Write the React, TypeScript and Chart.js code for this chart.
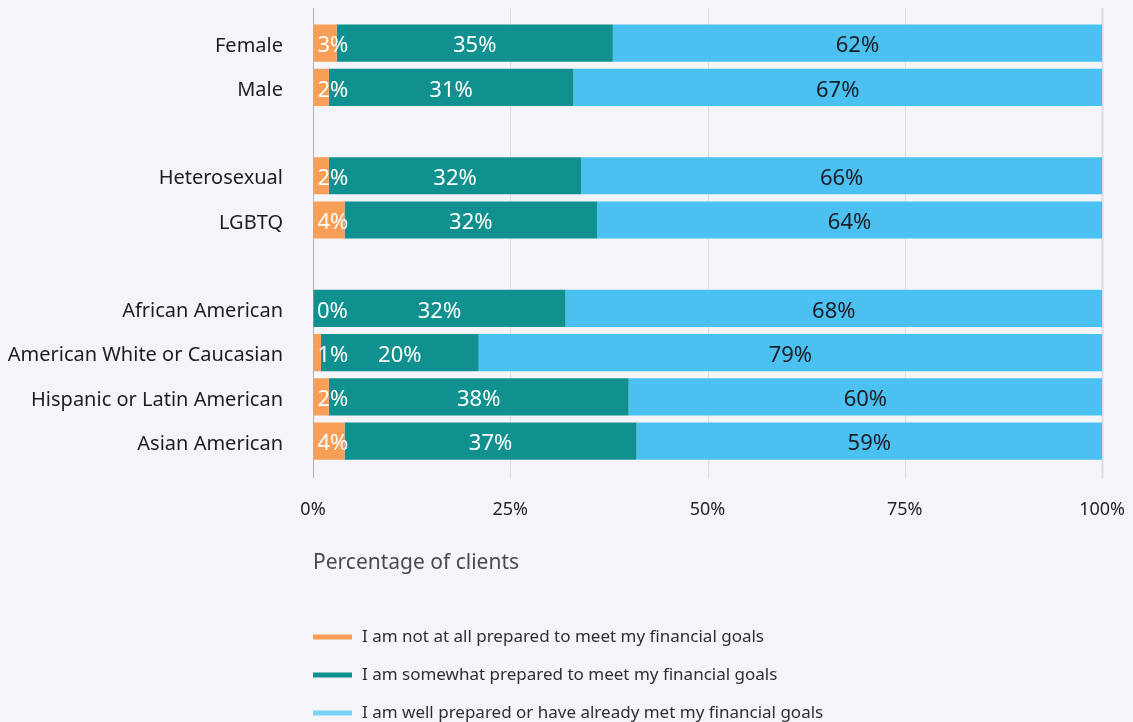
import React, { useEffect, useRef } from "react";
import { Chart, registerables } from "chart.js";

Chart.register(...registerables);

const categories = [
  "Female",
  "Male",
  "",
  "Heterosexual",
  "LGBTQ",
  "",
  "African American",
  "American White or Caucasian",
  "Hispanic or Latin American",
  "Asian American",
];
const notPrepared = [3, 2, null, 2, 4, null, 0, 1, 2, 4];
const somewhatPrepared = [35, 31, null, 32, 32, null, 32, 20, 38, 37];
const wellPrepared = [62, 67, null, 66, 64, null, 68, 79, 60, 59];
const seriesNames = [
  "I am not at all prepared to meet my financial goals",
  "I am somewhat prepared to meet my financial goals",
  "I am well prepared or have already met my financial goals",
];
const xTickValues = [0, 25, 50, 75, 100];
const axisTitle = "Percentage of clients";

const COLORS = ["#f99e57", "#10908f", "#4bc1f1"];
const LEGEND_COLORS = ["#f99e57", "#10908f", "#7cd3f8"];
const LABEL_COLORS = ["#ffffff", "#ffffff", "#1c1c24"];
const BG = "#f5f5f9";
const FONT = "'Noto Sans', sans-serif";

const gridPlugin = {
  id: "extendedGrid",
  beforeDatasetsDraw(chart: any) {
    const { ctx, chartArea } = chart;
    const xs = chart.scales.x;
    ctx.save();
    xTickValues.forEach((v) => {
      const px = Math.round(xs.getPixelForValue(v)) + 0.5;
      ctx.strokeStyle = v === 0 ? "#b2b2ba" : "#dcdce2";
      ctx.lineWidth = v === 100 ? 2 : 1;
      ctx.beginPath();
      ctx.moveTo(px, chartArea.top - 14);
      ctx.lineTo(px, chartArea.bottom + 15);
      ctx.stroke();
    });
    ctx.restore();
  },
};

const labelPlugin = {
  id: "segmentLabels",
  afterDatasetsDraw(chart: any) {
    const { ctx } = chart;
    ctx.save();
    ctx.font = `22px ${FONT}`;
    ctx.textBaseline = "middle";
    chart.data.datasets.forEach((ds: any, di: number) => {
      const meta = chart.getDatasetMeta(di);
      meta.data.forEach((bar: any, i: number) => {
        const v = ds.data[i];
        if (v === null || v === undefined) return;
        const p = bar.getProps(["x", "y", "base"], true);
        ctx.fillStyle = LABEL_COLORS[di];
        const text = `${v}%`;
        if (di === 0) {
          ctx.textAlign = "left";
          ctx.fillText(text, Math.min(p.base, p.x) + 4, p.y + 3);
        } else {
          ctx.textAlign = "center";
          ctx.fillText(text, (p.base + p.x) / 2, p.y + 3);
        }
      });
    });
    ctx.restore();
  },
};

const legendPlugin = {
  id: "stackedLegend",
  afterDraw(chart: any) {
    const { ctx, chartArea } = chart;
    ctx.save();
    ctx.font = `17px ${FONT}`;
    ctx.textBaseline = "middle";
    ctx.textAlign = "left";
    seriesNames.forEach((name, i) => {
      const y = chart.height - 85 + i * 38;
      ctx.fillStyle = LEGEND_COLORS[i];
      ctx.fillRect(chartArea.left, y - 2.5, 39, 5);
      ctx.fillStyle = "#2e2e38";
      ctx.fillText(name, chartArea.left + 49, y);
    });
    ctx.restore();
  },
};

export default function App() {
  const ref = useRef<HTMLCanvasElement | null>(null);

  useEffect(() => {
    document.documentElement.style.background = BG;
    document.body.style.background = BG;
    if (!ref.current) return;
    const chart = new Chart(ref.current, {
      type: "bar",
      data: {
        labels: categories,
        datasets: [
          { label: seriesNames[0], data: notPrepared, backgroundColor: COLORS[0] },
          { label: seriesNames[1], data: somewhatPrepared, backgroundColor: COLORS[1] },
          { label: seriesNames[2], data: wellPrepared, backgroundColor: COLORS[2] },
        ] as any,
      },
      options: {
        indexAxis: "y",
        animation: false,
        responsive: true,
        maintainAspectRatio: false,
        datasets: { bar: { categoryPercentage: 1, barPercentage: 0.84 } },
        layout: { padding: { top: 13, bottom: 146, right: 0, left: 0 } },
        plugins: {
          legend: { display: false },
          tooltip: { enabled: false },
        },
        scales: {
          x: {
            stacked: true,
            min: 0,
            max: 100,
            afterBuildTicks(scale: any) {
              scale.ticks = xTickValues.map((v) => ({ value: v }));
            },
            ticks: {
              padding: 0,
              color: "#222228",
              font: { family: FONT, size: 18 },
              callback: (v: any) => `${v}%`,
              maxRotation: 0,
            },
            grid: {
              display: true,
              drawOnChartArea: false,
              drawTicks: true,
              tickLength: 36,
              tickColor: "rgba(0,0,0,0)",
              color: "rgba(0,0,0,0)",
            },
            border: { display: false },
            title: {
              display: true,
              text: axisTitle,
              align: "start",
              color: "#4a4a55",
              font: { family: FONT, size: 21 },
              padding: { top: 30, bottom: 0 },
            },
          },
          y: {
            stacked: true,
            afterFit(scale: any) {
              scale.width = 305;
            },
            ticks: {
              padding: 0,
              labelOffset: 3,
              color: "#1c1c22",
              font: { family: FONT, size: 20 },
              autoSkip: false,
            },
            grid: {
              display: true,
              drawOnChartArea: false,
              drawTicks: true,
              tickLength: 30,
              tickColor: "rgba(0,0,0,0)",
              color: "rgba(0,0,0,0)",
            },
            border: { display: false },
          },
        },
      },
      plugins: [gridPlugin, labelPlugin, legendPlugin],
    });
    return () => chart.destroy();
  }, []);

  return (
    <div style={{ position: "relative", height: "714px", background: BG }}>
      <canvas ref={ref} />
    </div>
  );
}
